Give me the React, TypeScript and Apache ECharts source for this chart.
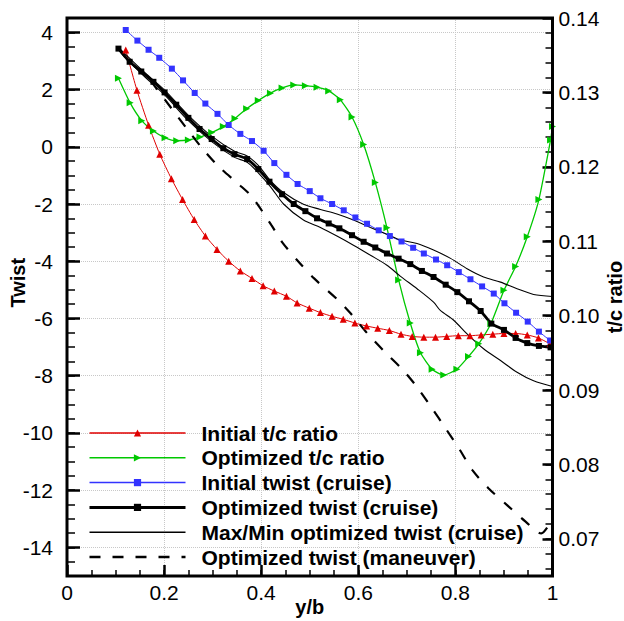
import React, { useEffect, useRef } from "react";
import * as echarts from "echarts";

// ---- data (y/b, value) ----
const initialTc: number[][] = [
  [0.121, 0.1357], [0.144, 0.1303], [0.168, 0.1256], [0.191, 0.1217], [0.215, 0.1184],
  [0.238, 0.1156], [0.262, 0.1129], [0.285, 0.1107], [0.309, 0.1089], [0.333, 0.1073],
  [0.357, 0.106], [0.381, 0.105], [0.404, 0.104], [0.427, 0.1033], [0.452, 0.1026],
  [0.474, 0.1017], [0.499, 0.101], [0.522, 0.1004], [0.546, 0.0999], [0.569, 0.0995],
  [0.593, 0.099], [0.617, 0.0986], [0.64, 0.0983], [0.664, 0.098], [0.688, 0.0975],
  [0.711, 0.0972], [0.735, 0.0971], [0.759, 0.0971], [0.782, 0.0972], [0.806, 0.0973],
  [0.83, 0.0973], [0.853, 0.0974], [0.877, 0.0975], [0.9, 0.0976], [0.924, 0.0976],
  [0.948, 0.0974], [0.971, 0.097], [0.995, 0.0962],
];
const optimizedTc: number[][] = [
  [0.106, 0.1319], [0.13, 0.1286], [0.154, 0.1262], [0.178, 0.1248], [0.202, 0.1239],
  [0.226, 0.1235], [0.25, 0.1236], [0.274, 0.124], [0.298, 0.1246], [0.322, 0.1254],
  [0.346, 0.1265], [0.37, 0.1278], [0.394, 0.1289], [0.419, 0.1299], [0.443, 0.1306],
  [0.467, 0.131], [0.491, 0.1309], [0.515, 0.1307], [0.539, 0.1302], [0.563, 0.129],
  [0.587, 0.1267], [0.611, 0.123], [0.635, 0.1179], [0.659, 0.1118], [0.683, 0.1048],
  [0.707, 0.099], [0.728, 0.095], [0.752, 0.0928], [0.776, 0.092], [0.803, 0.0928],
  [0.827, 0.0945], [0.848, 0.0962], [0.873, 0.0989], [0.9, 0.1034], [0.924, 0.1066],
  [0.948, 0.1106], [0.972, 0.1156], [0.996, 0.1236], [1.0, 0.1254],
];
const initialTwist: number[][] = [
  [0.121, 4.08], [0.145, 3.71], [0.168, 3.39], [0.19, 3.11], [0.216, 2.73], [0.239, 2.32],
  [0.263, 1.88], [0.285, 1.51], [0.31, 1.15], [0.333, 0.76], [0.357, 0.45], [0.381, 0.2],
  [0.405, -0.14], [0.427, -0.57], [0.452, -0.98], [0.475, -1.3], [0.5, -1.55], [0.522, -1.8],
  [0.546, -2.0], [0.57, -2.22], [0.594, -2.47], [0.618, -2.69], [0.642, -2.92], [0.665, -3.12],
  [0.689, -3.31], [0.713, -3.53], [0.735, -3.73], [0.76, -3.94], [0.783, -4.14], [0.807, -4.38],
  [0.831, -4.63], [0.855, -4.88], [0.879, -5.13], [0.901, -5.47], [0.925, -5.8], [0.949, -6.11],
  [0.972, -6.46], [0.995, -6.77],
];
const optimizedTwist: number[][] = [
  [0.106, 3.43], [0.129, 2.97], [0.153, 2.63], [0.178, 2.27], [0.201, 1.9], [0.225, 1.47],
  [0.25, 1.01], [0.273, 0.62], [0.298, 0.27], [0.322, -0.05], [0.345, -0.26], [0.371, -0.43],
  [0.394, -0.78], [0.417, -1.22], [0.443, -1.66], [0.467, -2.0], [0.491, -2.25], [0.515, -2.5],
  [0.539, -2.68], [0.561, -2.85], [0.587, -3.09], [0.611, -3.32], [0.635, -3.52], [0.659, -3.73],
  [0.683, -3.91], [0.707, -4.1], [0.731, -4.34], [0.755, -4.55], [0.78, -4.82], [0.804, -5.08],
  [0.828, -5.4], [0.852, -5.74], [0.874, -6.18], [0.9, -6.4], [0.924, -6.68], [0.948, -6.86],
  [0.972, -6.96], [0.996, -7.01],
];
const maxTwist: number[][] = [
  [0.106, 3.47], [0.153, 2.7], [0.201, 1.98], [0.25, 1.1], [0.298, 0.37], [0.345, -0.16],
  [0.371, -0.32], [0.394, -0.65], [0.419, -1.18], [0.446, -1.6], [0.487, -2.01], [0.522, -2.19],
  [0.556, -2.35], [0.59, -2.56], [0.625, -2.82], [0.659, -3.06], [0.687, -3.26], [0.721, -3.38],
  [0.755, -3.61], [0.79, -3.9], [0.824, -4.26], [0.858, -4.55], [0.893, -4.73], [0.927, -4.96],
  [0.961, -5.16], [1.0, -5.23],
];
const minTwist: number[][] = [
  [0.106, 3.39], [0.153, 2.56], [0.201, 1.81], [0.25, 0.91], [0.298, 0.18], [0.345, -0.37],
  [0.371, -0.54], [0.394, -0.91], [0.419, -1.39], [0.446, -2.0], [0.487, -2.56], [0.522, -2.82],
  [0.556, -3.12], [0.59, -3.44], [0.625, -3.79], [0.659, -4.14], [0.687, -4.53], [0.721, -4.96],
  [0.755, -5.43], [0.769, -5.72], [0.797, -6.07], [0.824, -6.54], [0.858, -7.06], [0.893, -7.47],
  [0.927, -7.88], [0.961, -8.18], [1.0, -8.38],
];
const maneuverTwist: number[][] = [
  [0.106, 3.43], [0.128, 2.98], [0.153, 2.63], [0.171, 2.35], [0.181, 2.11], [0.217, 1.3],
  [0.247, 0.63], [0.278, -0.04], [0.313, -0.7], [0.353, -1.3], [0.381, -1.75], [0.421, -2.74],
  [0.443, -3.33], [0.476, -4.0], [0.509, -4.6], [0.559, -5.37], [0.584, -5.82], [0.619, -6.53],
  [0.654, -7.16], [0.693, -7.82], [0.722, -8.42], [0.751, -9.12], [0.779, -9.82], [0.808, -10.56],
  [0.835, -11.3], [0.868, -11.93], [0.907, -12.53], [0.944, -13.09], [0.977, -13.51], [0.992, -13.23],
];

const legendNames = [
  "Initial t/c ratio",
  "Optimized t/c ratio",
  "Initial twist (cruise)",
  "Optimized twist (cruise)",
  "Max/Min optimized twist (cruise)",
  "Optimized twist (maneuver)",
];

// axis ranges
const twistRange = [-15, 4.5];
const tcRange = [0.065, 0.14];

const FONT = "Liberation Sans, Arial, Helvetica, sans-serif";

export default function App() {
  const ref = useRef<HTMLDivElement>(null);
  useEffect(() => {
    document.body.style.margin = "0";
    const chart = echarts.init(ref.current!, null, { renderer: "svg" });
    const L = 67, R = 71.5, T = 18, B = 45;
    const plotH = 621 - T - B;
    const twistPx = plotH / (twistRange[1] - twistRange[0]);
    const tcPx = plotH / (tcRange[1] - tcRange[0]);
    const gridBase = { left: L, right: R, top: T, containLabel: false, outerBoundsMode: "none" };
    const noLine = { show: false, onZero: false };
    const hiddenX = (gi: number) => ({ gridIndex: gi, type: "value", min: 0, max: 1, show: false, axisLine: noLine });
    const tickLine = (w: number) => ({ lineStyle: { color: "#000", width: w } });
    const lbl = { fontSize: 21, color: "#000", fontFamily: FONT };
    const nameStyle = { fontSize: 20, fontWeight: "bold", color: "#000", fontFamily: FONT };
    const option: any = {
      animation: false,
      textStyle: { fontFamily: FONT },
      grid: [
        { ...gridBase, bottom: B, show: true, borderColor: "#000", borderWidth: 3, backgroundColor: "transparent", z: 10 },
        { ...gridBase, bottom: B + (-14 - twistRange[0]) * twistPx },
        { ...gridBase, bottom: B + (0.066 - tcRange[0]) * tcPx },
        { ...gridBase, bottom: B + (0.07 - tcRange[0]) * tcPx },
      ],
      xAxis: [
        {
          gridIndex: 0, type: "value", min: 0, max: 1, interval: 0.05, position: "bottom",
          axisLine: noLine, axisLabel: { show: false }, splitLine: { show: false },
          axisTick: { inside: true, length: 6, ...tickLine(1.5) },
        },
        {
          gridIndex: 0, type: "value", min: 0, max: 1, interval: 0.2, position: "bottom",
          axisLine: noLine,
          axisTick: { inside: true, length: 11, ...tickLine(2.5) },
          axisLabel: { ...lbl, margin: 6, formatter: (v: number) => (v === 0 ? "0" : v === 1 ? "1" : v.toFixed(1)) },
          splitLine: { show: true, lineStyle: { type: "dotted", color: "#c8c8c8", width: 1 } },
          name: "y/b", nameLocation: "middle", nameGap: 21, nameMoveOverlap: false, nameTextStyle: nameStyle,
        },
        hiddenX(1), hiddenX(2), hiddenX(3),
      ],
      yAxis: [
        {
          gridIndex: 0, type: "value", position: "left", min: twistRange[0], max: twistRange[1], interval: 0.5,
          axisLine: noLine, axisLabel: { show: false }, splitLine: { show: false },
          axisTick: { inside: true, length: 8, ...tickLine(1.5) },
        },
        {
          gridIndex: 0, type: "value", position: "right", min: tcRange[0], max: tcRange[1],
          axisLine: noLine, axisLabel: { show: false }, splitLine: { show: false }, axisTick: { show: false },
          name: "t/c ratio", nameLocation: "middle", nameRotate: 90, nameGap: 52, nameMoveOverlap: false, nameTextStyle: nameStyle,
        },
        {
          gridIndex: 1, type: "value", position: "left", min: -14, max: twistRange[1], interval: 2,
          axisLine: noLine,
          axisTick: { inside: true, length: 13, ...tickLine(2.5) },
          axisLabel: { ...lbl, margin: 14, showMaxLabel: false },
          splitLine: { show: true, lineStyle: { type: "dotted", color: "#c8c8c8", width: 1 } },
          name: "Twist", nameLocation: "middle", nameRotate: 90, nameGap: 39, nameMoveOverlap: false, nameTextStyle: nameStyle,
        },
        {
          gridIndex: 2, type: "value", position: "right", min: 0.066, max: tcRange[1], interval: 0.002,
          axisLine: noLine, axisLabel: { show: false }, splitLine: { show: false },
          axisTick: { inside: true, length: 7, ...tickLine(1.5) },
        },
        {
          gridIndex: 3, type: "value", position: "right", min: 0.07, max: tcRange[1], interval: 0.01,
          axisLine: noLine, splitLine: { show: false },
          axisTick: { inside: true, length: 10, ...tickLine(2.5) },
          axisLabel: { ...lbl, margin: 6, formatter: (v: number) => v.toFixed(2) },
        },
      ],
      legend: {
        orient: "vertical", left: 88, top: 422.5, padding: 0, itemGap: 3.8,
        itemWidth: 96, itemHeight: 9,
        textStyle: { fontSize: 21, fontWeight: "bold", color: "#000", fontFamily: FONT, lineHeight: 21, padding: [0, 0, 0, 11] },
        data: [
          { name: legendNames[0], lineStyle: { width: 1.5 } },
          { name: legendNames[1], lineStyle: { width: 1.5 } },
          { name: legendNames[2], lineStyle: { width: 1.5 } },
          { name: legendNames[3], lineStyle: { width: 3 } },
          { name: legendNames[4], lineStyle: { width: 1.5 }, itemStyle: { color: "rgba(0,0,0,0)", opacity: 0, borderWidth: 0 } },
          { name: legendNames[5], lineStyle: { width: 2.5 }, itemStyle: { color: "rgba(0,0,0,0)", opacity: 0, borderWidth: 0 } },
        ],
      },
      series: [
        {
          name: legendNames[0], type: "line", xAxisIndex: 0, yAxisIndex: 1, data: initialTc,
          symbol: "triangle", symbolSize: 7, color: "#e00000", lineStyle: { width: 1 }, smooth: 0.2,
        },
        {
          name: legendNames[1], type: "line", xAxisIndex: 0, yAxisIndex: 1, data: optimizedTc,
          symbol: "triangle", symbolRotate: -90, symbolSize: 7, color: "#00c800", lineStyle: { width: 1.3 }, smooth: 0.2,
        },
        {
          name: legendNames[2], type: "line", xAxisIndex: 0, yAxisIndex: 0, data: initialTwist,
          symbol: "rect", symbolSize: 6, color: "#3333ff", lineStyle: { width: 1 }, smooth: 0.2,
        },
        {
          name: legendNames[4], type: "line", xAxisIndex: 0, yAxisIndex: 0, data: maxTwist,
          symbol: "none", color: "#000", lineStyle: { width: 1.1 }, smooth: 0.3,
        },
        {
          name: legendNames[4], type: "line", xAxisIndex: 0, yAxisIndex: 0, data: minTwist,
          symbol: "none", color: "#000", lineStyle: { width: 1.1 }, smooth: 0.3,
        },
        {
          name: legendNames[5], type: "line", xAxisIndex: 0, yAxisIndex: 0, data: maneuverTwist,
          symbol: "none", color: "#000", lineStyle: { width: 2.2, type: [11, 12] }, smooth: 0.3,
        },
        {
          name: legendNames[3], type: "line", xAxisIndex: 0, yAxisIndex: 0, data: optimizedTwist,
          symbol: "rect", symbolSize: 6, color: "#000", lineStyle: { width: 2.8 }, smooth: 0.2,
        },
      ],
    };
    chart.setOption(option);
    return () => chart.dispose();
  }, []);
  return <div ref={ref} style={{ width: 624, height: 621 }} />;
}
